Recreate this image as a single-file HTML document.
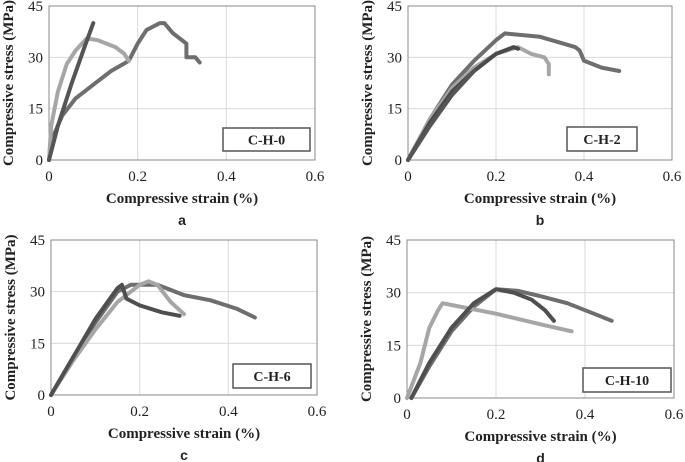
<!DOCTYPE html>
<html><head><meta charset="utf-8"><style>
html,body{margin:0;padding:0;background:#fff}
svg{display:block}
</style></head><body>
<svg id="fig" width="685" height="462" viewBox="0 0 685 462" xmlns="http://www.w3.org/2000/svg"></svg>
<script>
const xTicks=[0,0.2,0.4,0.6];
const yTicks=[0,15,30,45];
const xTickLabels=["0","0.2","0.4","0.6"];
const yTickLabels=["0","15","30","45"];
const panelLetters=["a","b","c","d"];
const panelNames=["C-H-0","C-H-2","C-H-6","C-H-10"];
// panel a
const aS1x=[0,0.02,0.05,0.08,0.1];
const aS1y=[0,10,22,33,40];
const aS2x=[0,0.01,0.03,0.06,0.1,0.14,0.18,0.2,0.22,0.25,0.26,0.28,0.3,0.31,0.31,0.33,0.34];
const aS2y=[0,7,13,18,22,26,29,34,38,40,40,37,35,34,30,30,28.5];
const aS3x=[0,0.005,0.02,0.04,0.06,0.085,0.11,0.15,0.17,0.18];
const aS3y=[0,10,20,28,32,35.5,35,33,31,29];
// panel b
const bS1x=[0,0.05,0.1,0.15,0.2,0.22,0.3,0.38,0.39,0.4,0.44,0.48];
const bS1y=[0,12,22,29,35,37,36,33,32,29,27,26];
const bS2x=[0,0.05,0.1,0.15,0.2,0.24,0.25];
const bS2y=[0,11,20,26,31,33,32.5];
const bS3x=[0,0.05,0.1,0.15,0.2,0.25,0.28,0.31,0.32,0.32];
const bS3y=[0,12,21,27,31,33,31,30,28,25];
const bS4x=[0,0.05,0.1,0.15];
const bS4y=[0,10,19,26];
// panel c
const cS1x=[0,0.05,0.1,0.15,0.18,0.24,0.3,0.36,0.42,0.46];
const cS1y=[0,11,21,30,32,32,29,27.5,25,22.5];
const cS2x=[0,0.05,0.1,0.15,0.16,0.17,0.2,0.25,0.29];
const cS2y=[0,11,22,31,32,28,26,24,23];
const cS3x=[0,0.05,0.1,0.15,0.2,0.22,0.24,0.27,0.3];
const cS3y=[0,10,19,27,32,33,32,27,23.5];
// panel d
const dS1x=[0.01,0.05,0.1,0.15,0.2,0.25,0.3,0.36,0.42,0.46];
const dS1y=[0,9,19,26,31,30.5,29,27,24,22];
const dS2x=[0.01,0.05,0.1,0.15,0.2,0.24,0.28,0.31,0.33];
const dS2y=[0,10,20,27,31,30,28,25,22];
const dS3x=[0,0.03,0.05,0.07,0.08,0.1,0.2,0.3,0.37];
const dS3y=[0,10,20,25,27,26.5,24,21,19];

const panels=[
 {L:49,R:315,T:6,B:160,leg:[223,128,87,23],series:[[aS2x,aS2y,"#6e6e6e"],[aS3x,aS3y,"#a6a6a6"],[aS1x,aS1y,"#555"]]},
 {L:408,R:672,T:6,B:160,leg:[567,127,70,24],series:[[bS1x,bS1y,"#6e6e6e"],[bS3x,bS3y,"#a6a6a6"],[bS2x,bS2y,"#4a4a4a"],[bS4x,bS4y,"#555"]]},
 {L:51,R:317,T:240,B:395,leg:[233,364,78,24],series:[[cS1x,cS1y,"#6e6e6e"],[cS3x,cS3y,"#a6a6a6"],[cS2x,cS2y,"#4f4f4f"]]},
 {L:407,R:674,T:240,B:398,leg:[583,368,88,24],series:[[dS1x,dS1y,"#6e6e6e"],[dS3x,dS3y,"#a6a6a6"],[dS2x,dS2y,"#4f4f4f"]]}
];
const NS="http://www.w3.org/2000/svg";
const svg=document.getElementById("fig");
function mk(tag,attrs,parent){const e=document.createElementNS(NS,tag);for(const k in attrs)e.setAttribute(k,attrs[k]);(parent||svg).appendChild(e);return e;}
panels.forEach((p,i)=>{
 const g=mk("g",{});
 
 
 const sx=v=>p.L+(v-0)/0.6*(p.R-p.L);
 const sy=v=>p.B-(v/45)*(p.B-p.T);
 xTicks.forEach((t,j)=>{
  if(j>0){const l=mk("line",{x1:sx(t),x2:sx(t),y1:p.T,y2:p.B,stroke:"#d9d9d9","stroke-width":1},g);
  }
  const tx=mk("text",{x:sx(t),y:p.B+21,"text-anchor":"middle","font-family":"Liberation Serif, serif","font-size":"15",fill:"#222"},g);
  tx.textContent=xTickLabels[j];
  
 });
 yTicks.forEach((t,j)=>{
  if(j>0){const l=mk("line",{x1:p.L,x2:p.R,y1:sy(t),y2:sy(t),stroke:"#d9d9d9","stroke-width":1},g);
  }
  const tx=mk("text",{x:p.L-6,y:sy(t)+5,"text-anchor":"end","font-family":"Liberation Serif, serif","font-size":"15",fill:"#222"},g);
  tx.textContent=yTickLabels[j];
  
 });
 const fr=mk("rect",{x:p.L,y:p.T,width:p.R-p.L,height:p.B-p.T,fill:"none",stroke:"#888","stroke-width":1},g);
 
 p.series.forEach((s,k)=>{
  const pts=s[0].map((x,m)=>sx(x).toFixed(1)+","+sy(s[1][m]).toFixed(1)).join(" ");
  const pl=mk("polyline",{points:pts,fill:"none",stroke:s[2],"stroke-width":4,"stroke-linejoin":"round","stroke-linecap":"round"},g);
  
 });
 const lg=p.leg;
 const lr=mk("rect",{x:lg[0],y:lg[1],width:lg[2],height:lg[3],fill:"#fff",stroke:"#555","stroke-width":1.5},g);
 
 const lt=mk("text",{x:lg[0]+lg[2]/2,y:lg[1]+lg[3]/2+5,"text-anchor":"middle","font-family":"Liberation Serif, serif","font-size":"14","font-weight":"bold",fill:"#222"},g);
 lt.textContent=panelNames[i];
 
 const cx=(p.L+p.R)/2;
 const xt=mk("text",{x:cx,y:p.B+43,"text-anchor":"middle","font-family":"Liberation Serif, serif","font-size":"15","font-weight":"bold",fill:"#222"},g);
 xt.textContent="Compressive strain (%)";
 
 const yc=(p.T+p.B)/2;
 const yt=mk("text",{x:p.L-36,y:yc,"text-anchor":"middle","font-family":"Liberation Serif, serif","font-size":"15","font-weight":"bold",fill:"#222",transform:"rotate(-90 "+(p.L-36)+" "+yc+")"},g);
 yt.textContent="Compressive stress (MPa)";
 
 const pl=mk("text",{x:cx,y:p.B+65,"text-anchor":"middle","font-family":"Liberation Sans, sans-serif","font-size":"14","font-weight":"bold",fill:"#222"},g);
 pl.textContent=panelLetters[i];
 
});
</script>
</body></html>
